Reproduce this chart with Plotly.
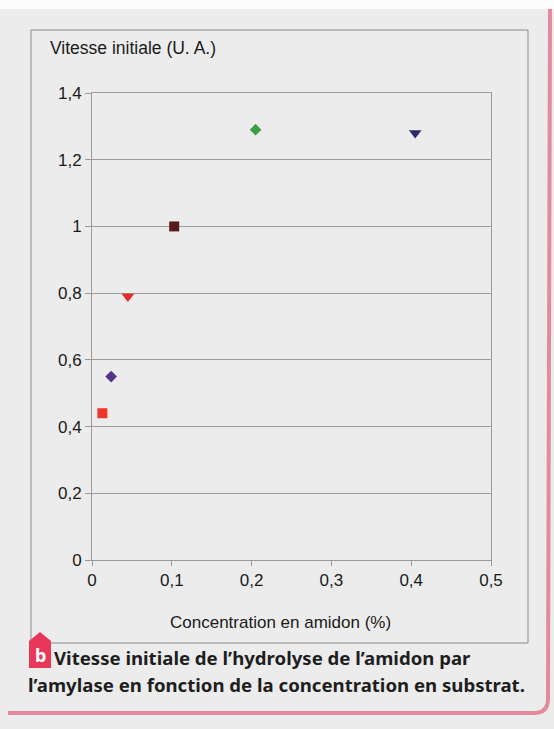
import plotly.graph_objects as go

# Data
concentration = [0.013, 0.024, 0.045, 0.103, 0.205, 0.405]
vitesse = [0.44, 0.55, 0.79, 1.0, 1.29, 1.28]
y_ticks = [0, 0.2, 0.4, 0.6, 0.8, 1, 1.2, 1.4]
x_ticks = [0, 0.1, 0.2, 0.3, 0.4, 0.5]

# Styles
symbols = ["square", "diamond", "triangle-down", "square", "diamond", "triangle-down"]
colors = ["#f0352a", "#55358a", "#e52a2a", "#5a1c1a", "#3d9e48", "#2c2a6a"]
sizes = [10, 9, 11, 10, 9, 11]

W, H = 554, 729
L, R, T, B = 92, 491, 93, 560
pw, ph = R - L, B - T


def px(x):
    return (x - L) / pw


def py(y):
    return (B - y) / ph


fig = go.Figure()
for c, v, s, col, sz in zip(concentration, vitesse, symbols, colors, sizes):
    fig.add_trace(go.Scatter(x=[c], y=[v], mode="markers",
                             marker=dict(symbol=s, color=col, size=sz, line=dict(width=0)),
                             showlegend=False))

bg = "#ececec"
grid = "#9a9a9a"
fig.update_layout(
    width=W, height=H,
    margin=dict(l=L, r=W - R, t=T, b=H - B),
    paper_bgcolor=bg, plot_bgcolor=bg,
    separators=", ",
    font=dict(family="Liberation Sans, Arial, sans-serif", size=17, color="#1a1a1a"),
    xaxis=dict(range=[0, 0.5], tickvals=x_ticks, showgrid=False, zeroline=False,
               showline=True, linecolor=grid, linewidth=1, mirror=True,
               ticks="outside", ticklen=5, tickcolor=grid, tickformat=".1~f"),
    yaxis=dict(range=[0, 1.4], tickvals=y_ticks, showgrid=True, gridcolor=grid, gridwidth=1,
               zeroline=False, showline=True, linecolor=grid, linewidth=1, mirror=True,
               ticks="outside", ticklen=6, tickcolor=grid, tickformat=".1~f"),
)

shapes = []
# white strip at the top of the photo
shapes.append(dict(type="rect", xref="paper", yref="paper",
                   x0=px(0), x1=px(W), y0=py(9), y1=py(0),
                   fillcolor="#fbfbfb", line=dict(width=0), layer="above"))
# outer grey frame
shapes.append(dict(type="rect", xref="paper", yref="paper",
                   x0=px(31), x1=px(528), y0=py(643), y1=py(30),
                   line=dict(color="#8a8a8a", width=1)))
# pink page border
pink = "#e58a9c"
shapes.append(dict(type="path", xref="paper", yref="paper",
                   path=f"M {px(8)},{py(713)} L {px(534)},{py(713)} Q {px(548)},{py(713)} {px(548)},{py(699)} L {px(550)},{py(9)}",
                   line=dict(color=pink, width=4)))
# badge
shapes.append(dict(type="path", xref="paper", yref="paper",
                   path=f"M {px(29)},{py(668)} L {px(51)},{py(668)} L {px(51)},{py(641)} L {px(40)},{py(632)} L {px(29)},{py(641)} Z",
                   fillcolor="#e8385a", line=dict(width=0)))
fig.update_layout(shapes=shapes)

annotations = [
    dict(text="Vitesse initiale (U. A.)", xref="paper", yref="paper", x=px(48), y=py(48),
         xanchor="left", yanchor="middle", showarrow=False,
         font=dict(size=17.5, color="#1a1a1a")),
    dict(text="Concentration en amidon (%)", xref="paper", yref="paper", x=px(280), y=py(622),
         xanchor="center", yanchor="middle", showarrow=False,
         font=dict(size=17, color="#1a1a1a")),
    dict(text="<b>b</b>", xref="paper", yref="paper", x=px(40), y=py(655),
         xanchor="center", yanchor="middle", showarrow=False,
         font=dict(family="Noto Sans, sans-serif", size=18, color="white")),
    dict(text="<b>Vitesse initiale de l’hydrolyse de l’amidon par</b>", xref="paper", yref="paper",
         x=px(52), y=py(657), xanchor="left", yanchor="middle", showarrow=False,
         font=dict(family="Noto Sans, sans-serif", size=18.6, color="#1e1e1e")),
    dict(text="<b>l’amylase en fonction de la concentration en substrat.</b>", xref="paper", yref="paper",
         x=px(26), y=py(684), xanchor="left", yanchor="middle", showarrow=False,
         font=dict(family="Noto Sans, sans-serif", size=18.6, color="#1e1e1e")),
]
fig.update_layout(annotations=annotations)

fig.write_html("out.html", config={"displayModeBar": False},
               post_script="document.body.style.margin='0';")
